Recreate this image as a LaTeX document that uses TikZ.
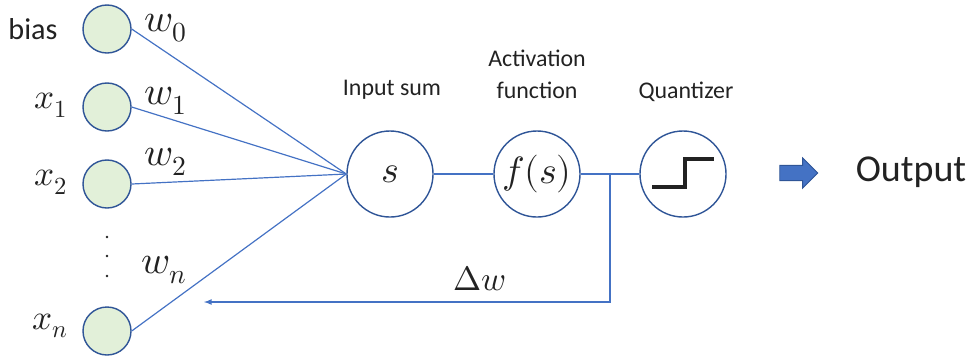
\documentclass[tikz,border=0pt]{standalone}
\usepackage{fontspec}
\usepackage{unicode-math}
\setmainfont{Carlito}
\setmathfont{Latin Modern Math}
\usetikzlibrary{shapes.arrows,arrows,calc}

\definecolor{wireblue}{HTML}{4472C4}
\definecolor{ringblue}{HTML}{2F5597}
\definecolor{inputgreen}{HTML}{E2F0D9}
\definecolor{ink}{HTML}{222222}

\tikzset{
  input/.style={circle, draw=ringblue, fill=inputgreen, line width=1pt, minimum size=1.2cm, inner sep=0pt},
  unit/.style={circle, draw=ringblue, line width=1pt, minimum size=2.15cm, inner sep=0pt, text=ink, font=\fontsize{27}{30}\selectfont},
  wire/.style={draw=wireblue, line width=0.85pt},
  caption/.style={text=ink, align=center, font=\fontsize{17}{22.5}\selectfont},
  wlabel/.style={text=ink, font=\fontsize{28}{30}\selectfont},
  xlabel/.style={text=ink, font=\fontsize{25}{28}\selectfont}
}

\begin{document}
\begin{tikzpicture}[x=0.025cm, y=-0.025cm]
\useasboundingbox (0,0) rectangle (977,358);

% inputs
\node[input] (in0) at (107,29) {};
\node[input] (in1) at (107,107) {};
\node[input] (in2) at (107,184) {};
\node[input] (inn) at (107,331) {};

\node[caption, font=\fontsize{21.5}{24}\selectfont] (bias) at (33,29) {bias};
\node[xlabel] (x1) at (51,105) {$x_1$};
\node[xlabel] (x2) at (51,182) {$x_2$};
\node[xlabel] (xn) at (50,326) {$x_n$};

\foreach \y in {237,256,276}
  \fill[ink] (107,\y) circle[radius=0.9pt];

% processing chain
\node[unit] (sum) at (390,174) {$s$};
\node[unit] (act) at (537,174) {$f(s)$};
\node[unit] (quant) at (683,174) {};

\node[caption] (sumtxt) at (392,90) {Input sum};
\node[caption] (acttxt) at (537,74) {Activation\\function};
\node[caption] (quanttxt) at (686,92) {Quantizer};

% weights
\draw[wire] (in0.east) -- (sum.west);
\draw[wire] (in1.east) -- (sum.west);
\draw[wire] (in2.east) -- (sum.west);
\draw[wire] (inn.east) -- (sum.west);

\node[wlabel] (w0) at (166,28) {$w_0$};
\node[wlabel] (w1) at (166,101) {$w_1$};
\node[wlabel] (w2) at (166,162) {$w_2$};
\node[wlabel] (wn) at (164,270) {$w_n$};

\draw[wire] (sum.east) -- (act.west);
\draw[wire] (act.east) -- (quant.west);

% step inside the quantizer
\draw[ink, line width=2.3pt] ($(quant)+(-31,13)$) -- ($(quant)+(2,13)$)
  -- ($(quant)+(2,-15)$) -- ($(quant)+(31,-15)$);

% feedback of the weight update
\coordinate (tap) at (610,174);
\coordinate (back) at (204,302);
\draw[wire, -latex] (tap) |- (back);
\node[wlabel, font=\fontsize{24}{28}\selectfont] (dw) at (480,279) {$\Delta w$};

% output
\node[single arrow, fill=wireblue, draw=ringblue, line width=0.6pt, minimum height=0.95cm,
  minimum width=0.74cm, inner sep=0pt, inner ysep=0.18cm, single arrow head extend=0.19cm,
  single arrow head indent=0pt] (outarrow) at (795,173) {};
\node[text=ink, font=\fontsize{27}{30}\selectfont] (output) at (911,172) {Output};
\end{tikzpicture}
\end{document}
